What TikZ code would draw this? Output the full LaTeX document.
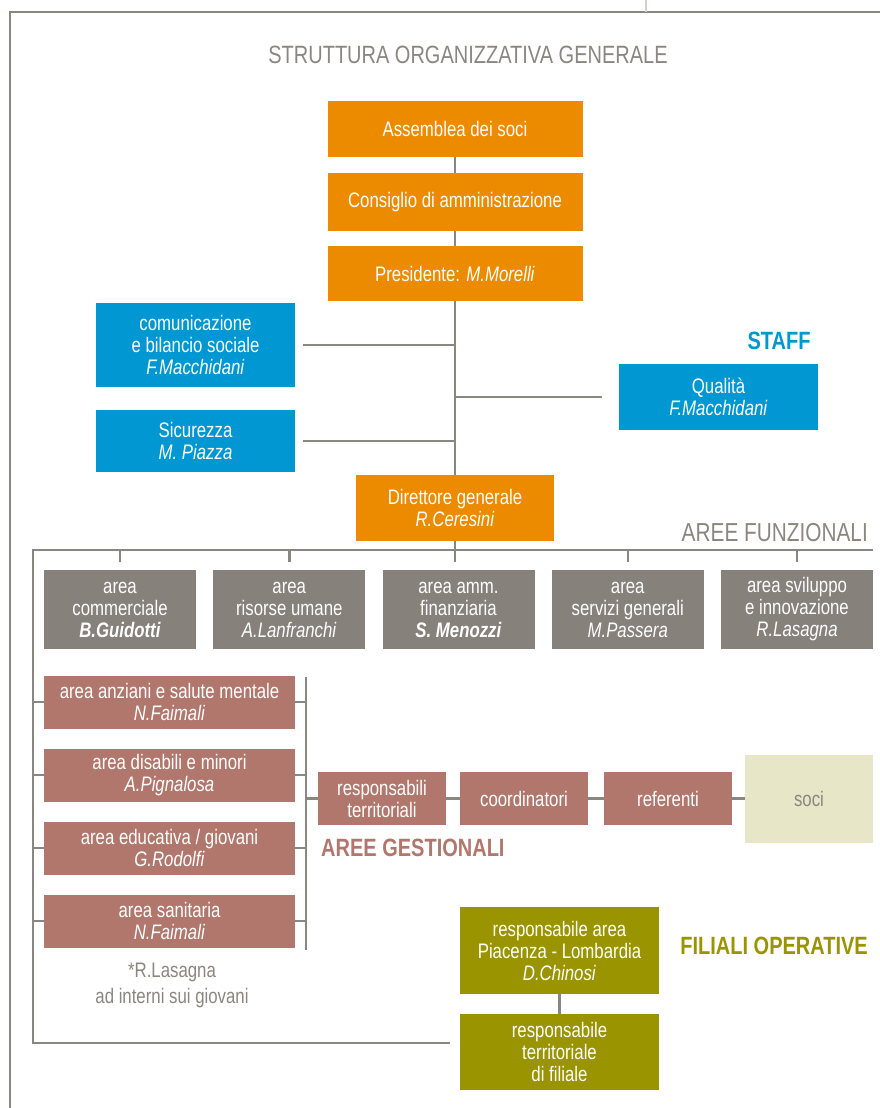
\documentclass[tikz,border=0pt]{standalone}
\usepackage{fontspec}
\setmainfont{Liberation Sans}[FakeStretch=0.8]
\usetikzlibrary{positioning}

\definecolor{orangeC}{HTML}{EC8A00}
\definecolor{blueC}{HTML}{0097D3}
\definecolor{grayC}{HTML}{86817B}
\definecolor{roseC}{HTML}{B2776C}
\definecolor{oliveC}{HTML}{9A9400}
\definecolor{sociC}{HTML}{E7E6C7}
\definecolor{lineC}{HTML}{8A8680}
\definecolor{topC}{HTML}{D8CFC6}

\newcommand{\nm}[1]{\textit{#1}}

\tikzset{
  box/.style={text=white, align=center, inner sep=0pt,
    font=\fontsize{21}{22}\selectfont},
  orangebox/.style={box, fill=orangeC, minimum width=255pt},
  bluebox/.style={box, fill=blueC, minimum width=199pt},
  graybox/.style={box, fill=grayC, minimum width=152pt, minimum height=79pt},
  rosebox/.style={box, fill=roseC, minimum width=251pt, minimum height=53pt},
  chainbox/.style={box, fill=roseC, minimum width=128pt, minimum height=53pt},
  olivebox/.style={box, fill=oliveC, minimum width=199pt},
  socibox/.style={box, fill=sociC, text=lineC, minimum width=128pt, minimum height=88pt},
  link/.style={draw=lineC, line width=2.5pt},
  frame/.style={draw=lineC, line width=2pt},
  heading/.style={font=\fontsize{25}{28}\selectfont, inner sep=0pt},
  boldheading/.style={heading, font=\fontsize{25}{28}\selectfont\bfseries}
}

\begin{document}
\begin{tikzpicture}[x=1pt, y=-1pt, node distance=73pt, on grid]
  \useasboundingbox (0,0) rectangle (880,1108);

  % frame
  \draw[frame] (880,12) -- (10,12) -- (10,1108);
  \draw[draw=topC, line width=2pt] (646,0) -- (646,12);

  \node[heading, text=lineC] (title) at (468,55) {STRUTTURA ORGANIZZATIVA GENERALE};

  % governance
  \node[orangebox, minimum height=56pt] (assemblea) at (455,129) {Assemblea dei soci};
  \node[orangebox, minimum height=58pt] (consiglio) [below=73pt of assemblea] {Consiglio di amministrazione};
  \node[orangebox, minimum height=55pt] (presidente) [below=71.5pt of consiglio] {Presidente: \nm{M.Morelli}};

  % staff
  \node[bluebox, minimum height=84pt] (comunicazione) at (195.5,345)
    {comunicazione\\e bilancio sociale\\\nm{F.Macchidani}};
  \node[bluebox, minimum height=62pt] (sicurezza) [below=96pt of comunicazione] {Sicurezza\\\nm{M. Piazza}};
  \node[bluebox, minimum height=66pt] (qualita) at (718.5,397) {Qualità\\\nm{F.Macchidani}};
  \node[boldheading, text=blueC] (staff) at (779,341) {STAFF};

  \node[orangebox, minimum width=198pt, minimum height=66pt] (direttore) at (455,508)
    {Direttore generale\\\nm{R.Ceresini}};

  \draw[link] (assemblea) -- (consiglio);
  \draw[link] (consiglio) -- (presidente);
  \draw[link] (presidente) -- (direttore);
  \draw[link] ([xshift=8pt]comunicazione.east) -- (comunicazione.east -| presidente.south);
  \draw[link] ([xshift=8pt]sicurezza.east) -- (sicurezza.east -| presidente.south);
  \draw[link] ([xshift=-17pt]qualita.west) -- (qualita.west -| presidente.south);

  % aree funzionali
  \node[graybox] (commerciale) at (120,609.5) {area\\commerciale\\\nm{\bfseries B.Guidotti}};
  \node[graybox] (risorse) [right=169.25pt of commerciale] {area\\risorse umane\\\nm{A.Lanfranchi}};
  \node[graybox] (amm) [right=169.25pt of risorse] {area amm.\\finanziaria\\\nm{\bfseries S. Menozzi}};
  \node[graybox] (servizi) [right=169.25pt of amm] {area\\servizi generali\\\nm{M.Passera}};
  \node[graybox] (sviluppo) [right=169.25pt of servizi] {area sviluppo\\e innovazione\\\nm{R.Lasagna}};
  \node[heading, text=lineC, anchor=east, font=\fontsize{26}{28}\selectfont] (funzionali) at (868,533) {AREE FUNZIONALI};

  \coordinate (fl) at (33,550);
  \coordinate (fr) at (873,550);
  \coordinate (bl) at (33,1043);

  % aree gestionali
  \node[rosebox] (anziani) at (169.5,702) {area anziani e salute mentale\\\nm{N.Faimali}};
  \node[rosebox] (disabili) [below=of anziani] {area disabili e minori\\\nm{A.Pignalosa}};
  \node[rosebox] (educativa) [below=of disabili] {area educativa / giovani\\\nm{G.Rodolfi}};
  \node[rosebox] (sanitaria) [below=of educativa] {area sanitaria\\\nm{N.Faimali}};
  \node[text=lineC, align=center, font=\fontsize{21}{26}\selectfont] (nota) at (172,985)
    {*R.Lasagna\\ad interni sui giovani};

  \coordinate (rtop) at (306,677);
  \coordinate (rbot) at (306,950);

  \node[chainbox] (responsabili) at (382,798.5) {responsabili\\territoriali};
  \node[chainbox] (coordinatori) [right=142pt of responsabili] {coordinatori};
  \node[chainbox] (referenti) [right=144pt of coordinatori] {referenti};
  \node[socibox] (soci) [right=141pt of referenti] {soci};
  \node[boldheading, text=roseC, anchor=west] (gestionali) at (321,848) {AREE GESTIONALI};

  % filiali operative
  \node[olivebox, minimum height=87pt] (resparea) at (559.5,950.5)
    {responsabile area\\Piacenza - Lombardia\\\nm{D.Chinosi}};
  \node[olivebox, minimum height=76pt] (filiale) at (559.5,1052)
    {responsabile\\territoriale\\di filiale};
  \node[boldheading, text=oliveC, anchor=east] (filiali) at (868,946) {FILIALI OPERATIVE};
  \coordinate (bend) at ([xshift=-10pt]filiale.west);

  % connectors
  \draw[link] (fr) -- (fl) -- (bl) -- (bend |- bl);
  \foreach \b in {commerciale, risorse, servizi, sviluppo}
    \draw[link] ([yshift=8pt]\b.north) -- (\b.north |- fl);
  \draw[link] (direttore.south) -- ([yshift=8pt]amm.north -| direttore.south);
  \draw[link] (rtop) -- (rbot);
  \foreach \r in {anziani, disabili, educativa, sanitaria} {
    \draw[link] (\r.west) -- (\r.west -| bl);
    \draw[link] (\r.east) -- (\r.east -| rtop);
  }
  \draw[link] (responsabili.west) -- (responsabili.west -| rtop);
  \draw[link] (responsabili) -- (coordinatori);
  \draw[link] (coordinatori) -- (referenti);
  \draw[link] (referenti) -- (soci);
  \draw[link] (resparea) -- (filiale);
\end{tikzpicture}
\end{document}
